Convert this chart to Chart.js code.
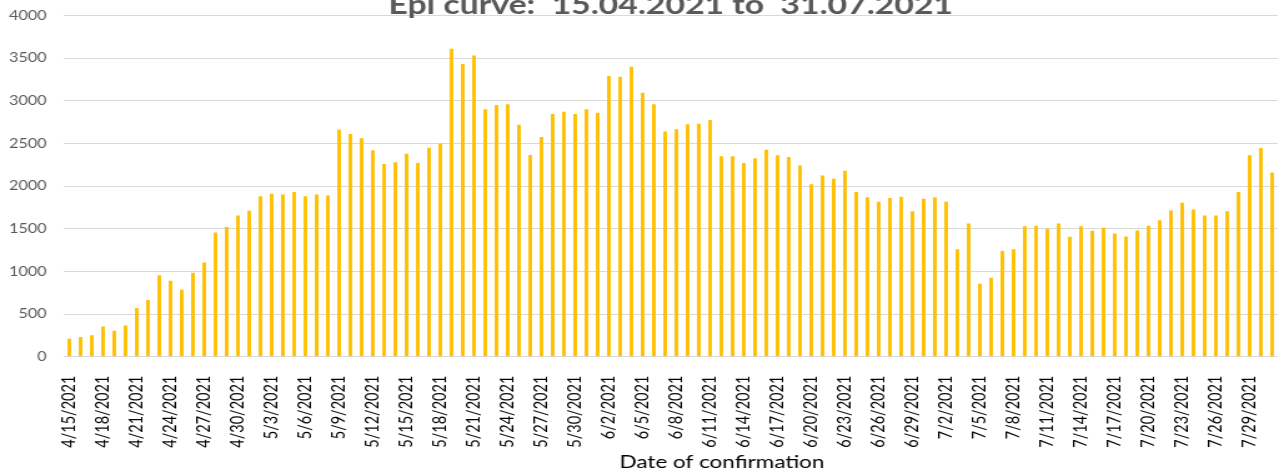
<!DOCTYPE html>
<html>
<head>
<meta charset="utf-8">
<script src="https://cdn.jsdelivr.net/npm/chart.js@4/dist/chart.umd.min.js"></script>
<style>
html,body{margin:0;padding:0;background:#fff;overflow:hidden;width:1284px;height:472px;}
#wrap{position:absolute;left:0;top:-20px;width:1028px;height:492px;transform:scaleX(1.249027);transform-origin:0 0;}
</style>
</head>
<body>
<div id="wrap"><canvas id="c" width="1028" height="492"></canvas></div>
<script>
const dates = [
  '4/15/2021','4/16/2021','4/17/2021','4/18/2021','4/19/2021','4/20/2021','4/21/2021','4/22/2021',
  '4/23/2021','4/24/2021','4/25/2021','4/26/2021','4/27/2021','4/28/2021','4/29/2021','4/30/2021',
  '5/1/2021','5/2/2021','5/3/2021','5/4/2021','5/5/2021','5/6/2021','5/7/2021','5/8/2021',
  '5/9/2021','5/10/2021','5/11/2021','5/12/2021','5/13/2021','5/14/2021','5/15/2021','5/16/2021',
  '5/17/2021','5/18/2021','5/19/2021','5/20/2021','5/21/2021','5/22/2021','5/23/2021','5/24/2021',
  '5/25/2021','5/26/2021','5/27/2021','5/28/2021','5/29/2021','5/30/2021','5/31/2021',
  '6/1/2021','6/2/2021','6/3/2021','6/4/2021','6/5/2021','6/6/2021','6/7/2021','6/8/2021',
  '6/9/2021','6/10/2021','6/11/2021','6/12/2021','6/13/2021','6/14/2021','6/15/2021','6/16/2021',
  '6/17/2021','6/18/2021','6/19/2021','6/20/2021','6/21/2021','6/22/2021','6/23/2021','6/24/2021',
  '6/25/2021','6/26/2021','6/27/2021','6/28/2021','6/29/2021','6/30/2021',
  '7/1/2021','7/2/2021','7/3/2021','7/4/2021','7/5/2021','7/6/2021','7/7/2021','7/8/2021',
  '7/9/2021','7/10/2021','7/11/2021','7/12/2021','7/13/2021','7/14/2021','7/15/2021','7/16/2021',
  '7/17/2021','7/18/2021','7/19/2021','7/20/2021','7/21/2021','7/22/2021','7/23/2021','7/24/2021',
  '7/25/2021','7/26/2021','7/27/2021','7/28/2021','7/29/2021','7/30/2021','7/31/2021'
];

const casesApril = [210, 230, 250, 355, 305, 365, 570, 665, 955, 890, 785, 985, 1105, 1455, 1520, 1655];
const casesMay = [1710, 1880, 1910, 1900, 1930, 1880, 1900, 1890, 2660, 2610, 2560, 2420, 2260, 2280, 2380, 2270,
                  2450, 2500, 3610, 3430, 3530, 2900, 2950, 2960, 2720, 2365, 2575, 2845, 2870, 2845, 2900];
const casesJune = [2860, 3290, 3280, 3400, 3095, 2960, 2640, 2665, 2725, 2730, 2775, 2350, 2350, 2270, 2325,
                   2425, 2360, 2340, 2240, 2020, 2125, 2085, 2180, 1930, 1870, 1815, 1860, 1875, 1705, 1850];
const casesJuly = [1870, 1815, 1260, 1560, 855, 925, 1240, 1260, 1530, 1535, 1500, 1560, 1405, 1530, 1475, 1510,
                   1445, 1410, 1480, 1535, 1600, 1715, 1805, 1725, 1655, 1655, 1705, 1930, 2360, 2445, 2160];

const yTickValues = [0, 500, 1000, 1500, 2000, 2500, 3000, 3500, 4000];
const yTickLabels = ['0', '500', '1000', '1500', '2000', '2500', '3000', '3500', '4000'];
const chartTitle = 'Epi curve:  15.04.2021 to  31.07.2021';
const xAxisTitle = 'Date of confirmation';

const cases = [].concat(casesApril, casesMay, casesJune, casesJuly);

const xTitlePlugin = {
  id: 'xTitle',
  afterDraw(chart) {
    const {ctx, chartArea} = chart;
    ctx.save();
    ctx.font = '18px Lato';
    ctx.fillStyle = '#000000';
    ctx.textAlign = 'center';
    ctx.textBaseline = 'alphabetic';
    ctx.fillText(xAxisTitle, (chartArea.left + chartArea.right) / 2 + 41, chartArea.bottom + 111.6);
    ctx.restore();
  }
};

function draw() {
  new Chart(document.getElementById('c'), {
    type: 'bar',
    data: {
      labels: dates,
      datasets: [{
        data: cases,
        backgroundColor: '#FFC000',
        borderWidth: 0,
        categoryPercentage: 1,
        barPercentage: 0.32
      }]
    },
    options: {
      responsive: false,
      animation: false,
      devicePixelRatio: 1,
      layout: {padding: {left: 0, right: 5, top: 0, bottom: 0}},
      plugins: {
        legend: {display: false},
        tooltip: {enabled: false},
        title: {
          display: true,
          text: chartTitle,
          fullSize: false,
          color: '#595959',
          font: {family: 'Lato', size: 27, weight: 'bold', lineHeight: 0.72},
          padding: {top: 16, bottom: 0}
        }
      },
      scales: {
        x: {
          grid: {display: false},
          border: {display: false},
          ticks: {
            autoSkip: false,
            maxRotation: 90,
            minRotation: 90,
            padding: 11,
            color: '#000000',
            font: {family: 'Lato', size: 14.5},
            callback: (v, i) => (i % 3 === 0 ? dates[i] : '')
          },
          afterFit: s => { s.height = 115.3; s.paddingLeft = 0; s.paddingRight = 0; }
        },
        y: {
          min: 0,
          max: 4000,
          afterBuildTicks: s => { s.ticks = yTickValues.map(v => ({value: v})); },
          ticks: {
            padding: 13.6,
            color: '#595959',
            font: {family: 'Lato', size: 13},
            callback: (v, i) => yTickLabels[i]
          },
          grid: {color: '#D9D9D9', lineWidth: 1, drawTicks: false},
          border: {display: false},
          afterFit: s => { s.width = 51; s.paddingTop = 0; s.paddingBottom = 0; }
        }
      }
    },
    plugins: [xTitlePlugin]
  });
}

if (document.fonts && document.fonts.load) {
  Promise.all([
    document.fonts.load('14px Lato'),
    document.fonts.load('bold 27px Lato')
  ]).then(draw, draw);
} else {
  draw();
}
</script>
</body>
</html>
